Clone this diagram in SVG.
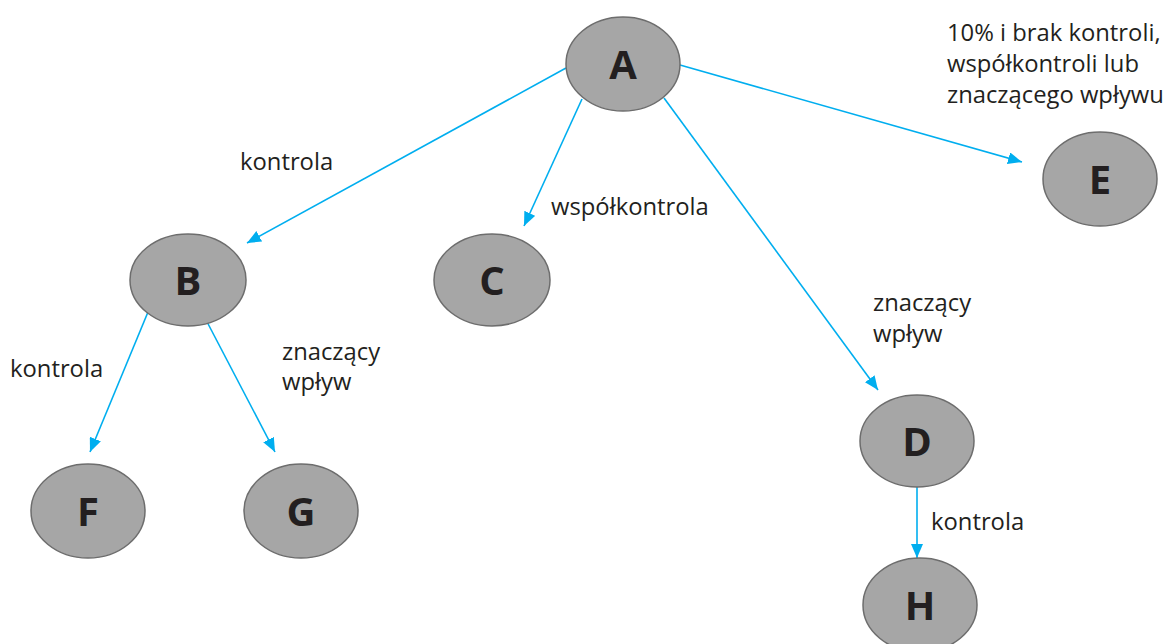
<svg xmlns="http://www.w3.org/2000/svg" width="1175" height="644" viewBox="0 0 1175 644">
<style>
.node ellipse{fill:#a6a6a6;stroke:#6d6d6d;stroke-width:1.5}
.node text{font-family:"Open Sans","DejaVu Sans",sans-serif;font-weight:bold;font-size:40px;fill:#231f20;text-anchor:middle}
.lbl{font-family:"Open Sans","Noto Sans",sans-serif;font-size:23.8px;fill:#231f20}
.edge{stroke:#00aeef;stroke-width:1.6;fill:none;marker-end:url(#ah)}
</style>
<defs>
<marker id="ah" viewBox="0 0 14 12" refX="14" refY="6" markerWidth="14" markerHeight="12" markerUnits="userSpaceOnUse" orient="auto">
<path d="M0,0 L14,6 L0,12 Z" fill="#00aeef"/>
</marker>
</defs>
<rect width="1175" height="644" fill="#fff"/>
<g id="connectors">
<line class="edge" x1="566" y1="68" x2="247" y2="243"/>
<line class="edge" x1="582" y1="99" x2="524" y2="226"/>
<line class="edge" x1="680" y1="65" x2="1022" y2="162"/>
<line class="edge" x1="664" y1="98" x2="878" y2="390"/>
<line class="edge" x1="148" y1="312" x2="90" y2="452"/>
<line class="edge" x1="205" y1="318" x2="275" y2="452"/>
<line class="edge" x1="917" y1="487" x2="917" y2="558"/>
</g>
<g id="A" class="node"><ellipse cx="623" cy="64" rx="57" ry="47"/><text x="623" y="79">A</text></g>
<g id="B" class="node"><ellipse cx="188" cy="280" rx="58" ry="46"/><text x="188" y="295">B</text></g>
<g id="C" class="node"><ellipse cx="492" cy="280" rx="58" ry="46"/><text x="492" y="295">C</text></g>
<g id="E" class="node"><ellipse cx="1100" cy="179" rx="57" ry="47"/><text x="1100" y="194">E</text></g>
<g id="D" class="node"><ellipse cx="917" cy="441" rx="57" ry="46"/><text x="917" y="456">D</text></g>
<g id="H" class="node"><ellipse cx="920" cy="605" rx="57" ry="47"/><text x="920" y="620">H</text></g>
<g id="F" class="node"><ellipse cx="88" cy="511" rx="57" ry="47"/><text x="88" y="526">F</text></g>
<g id="G" class="node"><ellipse cx="301" cy="511" rx="57" ry="47"/><text x="301" y="526">G</text></g>
<g id="labels">
<text class="lbl" x="240" y="170">kontrola</text>
<text class="lbl" x="551" y="215">współkontrola</text>
<text class="lbl" x="282" y="360">znaczący</text>
<text class="lbl" x="282" y="390">wpływ</text>
<text class="lbl" x="10" y="377">kontrola</text>
<text class="lbl" x="873" y="311">znaczący</text>
<text class="lbl" x="873" y="342">wpływ</text>
<text class="lbl" x="931" y="530">kontrola</text>
<text class="lbl" x="947" y="41">10% i brak kontroli,</text>
<text class="lbl" x="947" y="72">współkontroli lub</text>
<text class="lbl" x="947" y="103">znaczącego wpływu</text>
</g>
</svg>
